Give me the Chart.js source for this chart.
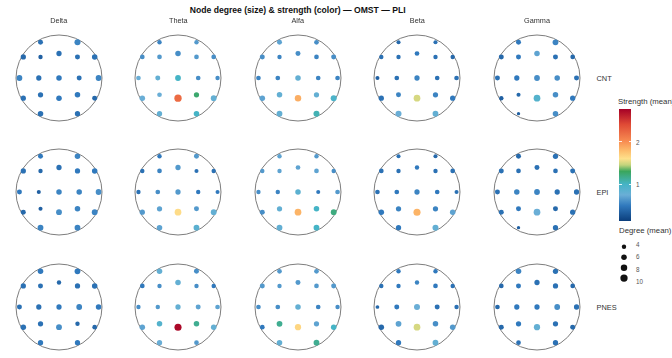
<!DOCTYPE html>
<html>
<head>
<meta charset="utf-8">
<script src="https://cdn.jsdelivr.net/npm/chart.js@4.4.1/dist/chart.umd.min.js"></script>
<style>
  html, body { margin: 0; padding: 0; background: #fff; }
  body { width: 672px; height: 358px; position: relative; overflow: hidden;
         font-family: "Liberation Sans", Arial, sans-serif; color: #333; }
  .abs { position: absolute; white-space: nowrap; }
  .title { font-weight: bold; font-size: 8.6px; color: #111; transform: translate(-50%, -50%); }
  .col { font-size: 7.3px; transform: translate(-50%, -50%); }
  .row { font-size: 7.4px; transform: translate(0, -50%); }
  .leg { font-size: 7.8px; transform: translate(0, -50%); }
  .tick { font-size: 6.3px; color: #555; transform: translate(0, -50%); }
  canvas { position: absolute; }
  #bar { position: absolute; }
  .mark { position: absolute; height: 1px; width: 2.5px; background: rgba(255,255,255,0.85); }
</style>
</head>
<body>
<div id="root"></div>
<script>
const bands = ['Delta', 'Theta', 'Alfa', 'Beta', 'Gamma'];
const groups = ['CNT', 'EPI', 'PNES'];
const electrodes = ['Fp1', 'Fp2', 'F7', 'F3', 'Fz', 'F4', 'F8', 'T3', 'C3', 'Cz', 'C4', 'T4', 'T5', 'P3', 'Pz', 'P4', 'T6', 'O1', 'O2'];
const electrodeX = [-0.43, 0.43, -0.83, -0.43, 0, 0.43, 0.83, -0.92, -0.47, 0, 0.47, 0.92, -0.83, -0.43, 0, 0.43, 0.83, -0.43, 0.43];
const electrodeY = [0.83, 0.83, 0.49, 0.49, 0.57, 0.49, 0.49, 0, 0, 0, 0, 0, -0.47, -0.39, -0.47, -0.39, -0.47, -0.83, -0.83];

// degree (size), one row per band, electrodes in the order above
const cntDegree = [
  [5, 7, 5.5, 4, 5.5, 5, 6, 6.5, 5.5, 6, 5, 6.5, 5.5, 5.5, 6, 6, 5, 6, 5.5],
  [4, 4, 4.5, 4.5, 6, 4.5, 4.5, 4.5, 5, 6.5, 4.5, 4, 6, 4.5, 10, 5.5, 6.5, 5.5, 6],
  [5, 4.5, 5, 4, 5, 4.5, 5, 4.5, 4.5, 6, 4.5, 4.5, 6, 6, 8, 5.5, 7, 6.5, 7],
  [3.5, 3.5, 4, 4, 4.5, 4, 4, 3.5, 4.5, 5.5, 4.5, 4.5, 5.5, 5, 8.5, 5.5, 5.5, 7, 6.5],
  [5, 6.5, 5, 5, 6, 5, 4.5, 5, 5.5, 6.5, 6, 5, 4, 3.5, 8.5, 6, 5.5, 2.5, 6],
];
const cntStrength = [
  [0.45, 0.55, 0.4, 0.35, 0.45, 0.45, 0.45, 0.55, 0.45, 0.5, 0.45, 0.55, 0.45, 0.45, 0.5, 0.5, 0.4, 0.45, 0.45],
  [0.55, 0.65, 0.6, 0.65, 0.6, 0.65, 0.6, 0.75, 0.8, 1.0, 0.6, 0.6, 0.75, 0.75, 2.2, 1.25, 0.8, 0.8, 1.0],
  [0.7, 0.6, 0.6, 0.55, 0.6, 0.55, 0.6, 0.55, 0.55, 0.8, 0.55, 0.55, 0.7, 0.8, 1.85, 0.8, 0.95, 0.8, 1.05],
  [0.4, 0.45, 0.45, 0.45, 0.5, 0.45, 0.4, 0.35, 0.45, 0.55, 0.45, 0.45, 0.45, 0.55, 1.5, 0.55, 0.5, 0.75, 0.8],
  [0.5, 0.55, 0.4, 0.5, 0.7, 0.45, 0.4, 0.45, 0.5, 0.6, 0.6, 0.45, 0.35, 0.4, 0.9, 0.6, 0.5, 0.35, 0.6],
];
const epiDegree = [
  [5, 6, 5.5, 4, 5.5, 5.5, 6, 5, 3.5, 6, 6, 6.5, 5, 3.5, 6.5, 6, 6.5, 6.5, 6.5],
  [4, 5, 4, 4.5, 5.5, 3.5, 4, 4, 4.5, 5.5, 4, 3.5, 5.5, 5.5, 8.5, 5, 6.5, 6, 6.5],
  [4, 4, 4, 4, 4.5, 4.5, 4, 4, 4, 6, 3.5, 4.5, 5, 5.5, 8.5, 6, 6.5, 6.5, 6.5],
  [3.5, 3.5, 4.5, 4, 4, 4, 4.5, 4.5, 4.5, 5.5, 4.5, 3.5, 6, 5.5, 9.5, 5.5, 6, 5.5, 7],
  [5, 5.5, 5, 4.5, 5, 4.5, 5, 5, 6, 6.5, 5.5, 5.5, 5, 5, 8.5, 5, 5.5, 2.5, 5.5],
];
const epiStrength = [
  [0.5, 0.55, 0.45, 0.4, 0.45, 0.5, 0.5, 0.5, 0.35, 0.55, 0.55, 0.6, 0.4, 0.35, 0.6, 0.55, 0.55, 0.55, 0.55],
  [0.5, 0.65, 0.45, 0.55, 0.65, 0.45, 0.45, 0.45, 0.6, 0.65, 0.5, 0.5, 0.65, 0.7, 1.62, 0.65, 0.8, 0.7, 0.85],
  [0.7, 0.65, 0.65, 0.7, 0.7, 0.7, 0.6, 0.6, 0.55, 0.85, 0.5, 0.65, 0.6, 0.8, 1.82, 1.0, 1.2, 0.8, 1.0],
  [0.45, 0.4, 0.45, 0.45, 0.5, 0.45, 0.45, 0.45, 0.5, 0.55, 0.5, 0.45, 0.5, 0.55, 1.82, 0.55, 0.7, 0.5, 0.8],
  [0.4, 0.45, 0.45, 0.45, 0.45, 0.45, 0.45, 0.45, 0.55, 0.55, 0.45, 0.45, 0.45, 0.5, 0.75, 0.4, 0.45, 0.35, 0.45],
];
const pnesDegree = [
  [6, 6.5, 5.5, 5, 4, 5.5, 6, 5, 5.5, 5.5, 6.5, 6, 6, 5.5, 6.5, 4, 4.5, 5.5, 5.5],
  [6, 5, 4.5, 4, 6, 4, 4, 4, 4, 5.5, 5, 4.5, 6, 6, 9.5, 6, 6, 5.5, 4.5],
  [4.5, 4.5, 5, 4, 5, 4.5, 5, 4.5, 4.5, 6, 4.5, 4, 4.5, 6.5, 7.5, 5.5, 6, 6, 6.5],
  [4, 4, 4, 4, 4, 4.5, 4, 3, 5, 7, 5, 4, 6, 6.5, 8.5, 6, 6, 5.5, 6.5],
  [6, 5.5, 4.5, 5, 5.5, 5.5, 4.5, 4.5, 5.5, 5.5, 6.5, 5.5, 5, 5.5, 7.5, 5.5, 5, 4.5, 5.5],
];
const pnesStrength = [
  [0.5, 0.5, 0.45, 0.45, 0.4, 0.45, 0.45, 0.45, 0.45, 0.5, 0.55, 0.5, 0.45, 0.45, 0.6, 0.4, 0.4, 0.5, 0.5],
  [0.8, 0.6, 0.5, 0.6, 0.8, 0.6, 0.5, 0.6, 0.65, 0.8, 0.7, 0.7, 0.7, 0.9, 2.72, 1.15, 0.8, 0.75, 0.65],
  [0.65, 0.65, 0.65, 0.65, 0.65, 0.65, 0.65, 0.6, 0.6, 0.8, 0.55, 0.6, 0.5, 1.15, 1.65, 0.7, 1.0, 0.8, 1.15],
  [0.5, 0.5, 0.45, 0.5, 0.55, 0.5, 0.45, 0.4, 0.5, 0.75, 0.45, 0.45, 0.4, 0.7, 1.5, 0.6, 0.65, 0.5, 0.8],
  [0.55, 0.45, 0.4, 0.5, 0.45, 0.45, 0.4, 0.4, 0.5, 0.5, 0.6, 0.45, 0.4, 0.5, 0.8, 0.45, 0.4, 0.45, 0.45],
];

const strengthTicks = [1, 2];
const degreeTicks = [4, 6, 8, 10];
const strengthMin = 0.14;
const strengthMax = 2.76;
const stopValues = [0.14, 0.5, 0.75, 1.0, 1.3, 1.45, 1.6, 1.78, 2.0, 2.4, 2.76];
const stopColors = ['#0b3e7c', '#3079bd', '#6aaed6', '#45b4c6', '#3aa65c', '#c2d47c', '#fee08b', '#fdbd6c', '#f88d52', '#df4a35', '#a50026'];

const degreeByGroup = { CNT: cntDegree, EPI: epiDegree, PNES: pnesDegree };
const strengthByGroup = { CNT: cntStrength, EPI: epiStrength, PNES: pnesStrength };

// layout (pixels)
const colX = [58.7, 178.3, 297.7, 417.3, 537];
const rowY = [77.7, 192.3, 307.3];
const headR = 46.3;
const box = 112;

function hexRgb (h) {
  return [1, 3, 5].map((i) => parseInt(h.slice(i, i + 2), 16));
}

function strengthColor (v) {
  if (v <= stopValues[0]) return stopColors[0];
  for (let i = 1; i < stopValues.length; i++) {
    if (v <= stopValues[i]) {
      const t = (v - stopValues[i - 1]) / (stopValues[i] - stopValues[i - 1]);
      const a = hexRgb(stopColors[i - 1]);
      const b = hexRgb(stopColors[i]);
      const c = a.map((x, k) => Math.round(x + (b[k] - x) * t));
      return `rgb(${c[0]},${c[1]},${c[2]})`;
    }
  }
  return stopColors[stopColors.length - 1];
}

function degreeRadius (d) {
  return -0.3 + 1.25 * Math.sqrt(d);
}

const root = document.getElementById('root');
function addText (cls, text, x, y) {
  const el = document.createElement('div');
  el.className = 'abs ' + cls;
  el.textContent = text;
  el.style.left = x + 'px';
  el.style.top = y + 'px';
  root.appendChild(el);
  return el;
}

const headOutline = {
  id: 'headOutline',
  beforeDatasetsDraw (chart) {
    const { ctx, scales } = chart;
    const cx = scales.x.getPixelForValue(0);
    const cy = scales.y.getPixelForValue(0);
    const r = scales.x.getPixelForValue(1) - cx;
    ctx.save();
    ctx.beginPath();
    ctx.arc(cx, cy, r, 0, Math.PI * 2);
    ctx.strokeStyle = '#6e6e6e';
    ctx.lineWidth = 0.9;
    ctx.stroke();
    ctx.restore();
  },
};

const half = box / 2 / headR;

groups.forEach((g, r) => {
  bands.forEach((b, c) => {
    const deg = degreeByGroup[g][c];
    const str = strengthByGroup[g][c];
    const points = electrodes.map((name, i) => ({ x: electrodeX[i], y: electrodeY[i], d: deg[i], s: str[i] }));

    const canvas = document.createElement('canvas');
    canvas.width = box;
    canvas.height = box;
    canvas.style.left = (colX[c] - box / 2) + 'px';
    canvas.style.top = (rowY[r] - box / 2) + 'px';
    root.appendChild(canvas);

    new Chart(canvas, {
      type: 'scatter',
      data: {
        datasets: [{
          data: points,
          pointRadius: (ctx) => degreeRadius(ctx.raw.d),
          pointBackgroundColor: (ctx) => strengthColor(ctx.raw.s),
          pointBorderWidth: 0,
        }],
      },
      options: {
        responsive: false,
        animation: false,
        events: [],
        layout: { padding: 0 },
        plugins: { legend: { display: false }, tooltip: { enabled: false } },
        scales: {
          x: { display: false, min: -half, max: half },
          y: { display: false, min: -half, max: half },
        },
      },
      plugins: [headOutline],
    });
  });
});

// titles
addText('title', 'Node degree (size) & strength (color) \u2014 OMST \u2014 PLI', 297.7, 10);
bands.forEach((b, c) => addText('col', b, colX[c], 19.5));
groups.forEach((g, r) => addText('row', g, 596.5, rowY[r]));

// strength colorbar
const barTop = 109.3;
const barBottom = 221;
const barLeft = 619;
const barW = 12;
const bar = document.createElement('div');
bar.id = 'bar';
bar.style.left = barLeft + 'px';
bar.style.top = barTop + 'px';
bar.style.width = barW + 'px';
bar.style.height = (barBottom - barTop) + 'px';
const gradStops = stopValues.map((v, i) => `${stopColors[i]} ${((v - strengthMin) / (strengthMax - strengthMin) * 100).toFixed(1)}%`);
bar.style.background = `linear-gradient(to top, ${gradStops.join(', ')})`;
root.appendChild(bar);
addText('leg', 'Strength (mean)', 618, 101);
strengthTicks.forEach((t) => {
  const y = barBottom - (t - strengthMin) / (strengthMax - strengthMin) * (barBottom - barTop);
  [barLeft, barLeft + barW - 2.5].forEach((x) => {
    const m = document.createElement('div');
    m.className = 'mark';
    m.style.left = x + 'px';
    m.style.top = (y - 0.5) + 'px';
    root.appendChild(m);
  });
  addText('tick', String(t), 636, y);
});

// degree legend
addText('leg', 'Degree (mean)', 619, 230);
const legStep = 12.3;
const legTop = 236;
const legCanvas = document.createElement('canvas');
legCanvas.width = 24;
legCanvas.height = 53;
legCanvas.style.left = '612px';
legCanvas.style.top = legTop + 'px';
root.appendChild(legCanvas);
new Chart(legCanvas, {
  type: 'scatter',
  data: {
    datasets: [{
      data: degreeTicks.map((d, i) => ({ x: 0, y: i, d })),
      pointRadius: (ctx) => degreeRadius(ctx.raw.d),
      pointBackgroundColor: '#111',
      pointBorderWidth: 0,
    }],
  },
  options: {
    responsive: false,
    animation: false,
    events: [],
    layout: { padding: 0 },
    plugins: { legend: { display: false }, tooltip: { enabled: false } },
    scales: {
      x: { display: false, min: -1, max: 1 },
      y: { display: false, min: -0.65, max: 3.66, reverse: true },
    },
  },
});
degreeTicks.forEach((d, i) => addText('tick', String(d), 636, legTop + (0.65 + i) * legStep));
</script>
</body>
</html>
